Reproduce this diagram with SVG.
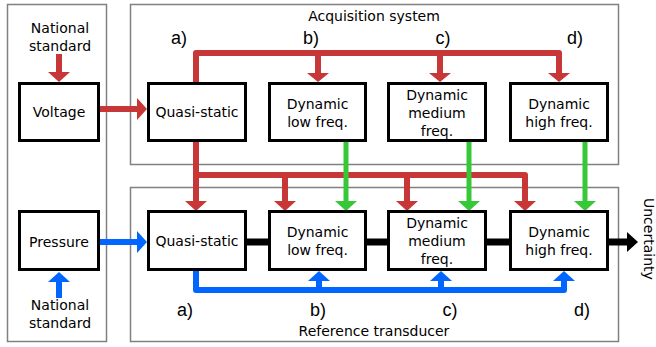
<svg xmlns="http://www.w3.org/2000/svg" width="656" height="347" viewBox="0 0 656 347">
  <style>
    .panel { fill: none; stroke: #808080; stroke-width: 1.5; }
    .box { fill: #ffffff; stroke: #000000; stroke-width: 3; }
    .t { font-family: "DejaVu Sans", Verdana, sans-serif; font-size: 14px; fill: #000000; text-anchor: middle; }
    .lbl { font-family: "Liberation Sans", Arial, sans-serif; font-size: 18px; fill: #000000; text-anchor: middle; }
    .red { fill: none; stroke: #C83737; stroke-width: 6; stroke-linejoin: round; }
    .green { fill: none; stroke: #37C837; stroke-width: 5; }
    .blue { fill: none; stroke: #0066FF; stroke-width: 6; stroke-linejoin: round; }
    .blk { fill: none; stroke: #000000; stroke-width: 7; }
    .hr { fill: #C83737; }
    .hg { fill: #37C837; }
    .hb { fill: #0066FF; }
    .hk { fill: #000000; }
  </style>

  <!-- panels -->
  <rect class="panel" x="7.5" y="4.5" width="99" height="337"/>
  <rect class="panel" x="130.5" y="4.5" width="488" height="160"/>
  <rect class="panel" x="130.5" y="187.5" width="488" height="154"/>
  <text class="t" x="374" y="21">Acquisition system</text>
  <text class="t" x="374" y="336">Reference transducer</text>

  <!-- standards -->
  <text class="t" x="60" y="33">National</text>
  <text class="t" x="60" y="51">standard</text>
  <text class="t" x="60" y="310">National</text>
  <text class="t" x="60" y="328">standard</text>

  <!-- stage labels -->
  <g id="labels">
    <text class="lbl" x="179" y="44">a)</text>
    <text class="lbl" x="311" y="44">b)</text>
    <text class="lbl" x="443" y="44">c)</text>
    <text class="lbl" x="575" y="44">d)</text>
    <text class="lbl" x="185" y="316">a)</text>
    <text class="lbl" x="318" y="316">b)</text>
    <text class="lbl" x="450" y="316">c)</text>
    <text class="lbl" x="582" y="316">d)</text>
  </g>

  <!-- connectors -->
  <g id="connectors">
    <!-- red: voltage chain -->
    <path class="red" d="M59 54 V73"/>
    <polygon class="hr" points="48,72 70,72 59,82"/>
    <path class="red" d="M100 109 H138"/>
    <polygon class="hr" points="137,98 137,120 147,109"/>
    <path class="red" d="M196 83 V53 H559 V74"/>
    <path class="red" d="M318 53 V74"/>
    <path class="red" d="M440 53 V74"/>
    <polygon class="hr" points="307,73 329,73 318,82"/>
    <polygon class="hr" points="429,73 451,73 440,82"/>
    <polygon class="hr" points="548,73 570,73 559,82"/>
    <path class="red" d="M196 142 V202"/>
    <path class="red" d="M196 175 H525 V202"/>
    <path class="red" d="M285 175 V202"/>
    <path class="red" d="M407 175 V202"/>
    <polygon class="hr" points="185,201 207,201 196,211"/>
    <polygon class="hr" points="274,201 296,201 285,211"/>
    <polygon class="hr" points="396,201 418,201 407,211"/>
    <polygon class="hr" points="514,201 536,201 525,211"/>

    <!-- green: dynamic transfer -->
    <path class="green" d="M346 142 V202"/>
    <path class="green" d="M469 142 V202"/>
    <path class="green" d="M585 142 V202"/>
    <polygon class="hg" points="335,201 357,201 346,211"/>
    <polygon class="hg" points="458,201 480,201 469,211"/>
    <polygon class="hg" points="574,201 596,201 585,211"/>

    <!-- blue: pressure chain -->
    <path class="blue" d="M59 298 V281"/>
    <polygon class="hb" points="48,282 70,282 59,272"/>
    <path class="blue" d="M100 242 H138"/>
    <polygon class="hb" points="137,231 137,253 147,242"/>
    <path class="blue" d="M196 271 V290 H564 V280"/>
    <path class="blue" d="M319 290 V280"/>
    <path class="blue" d="M441 290 V280"/>
    <polygon class="hb" points="308,281 330,281 319,271"/>
    <polygon class="hb" points="430,281 452,281 441,271"/>
    <polygon class="hb" points="553,281 575,281 564,271"/>

    <!-- black: uncertainty chain -->
    <path class="blk" d="M247 242 H268 M367 242 H387 M487 242 H509 M609 242 H628"/>
    <polygon class="hk" points="627,232 627,252 638,242"/>
  </g>
  <text class="t" style="text-anchor:start" transform="translate(643.5 198) rotate(90)">Uncertainty</text>

  <!-- top row: acquisition system -->
  <g id="voltage">
    <rect class="box" x="19.5" y="83.5" width="79" height="57"/>
    <text class="t" x="59" y="117">Voltage</text>
  </g>
  <g id="acq-quasi-static">
    <rect class="box" x="148.5" y="83.5" width="97" height="57"/>
    <text class="t" x="197" y="117">Quasi-static</text>
  </g>
  <g id="acq-low">
    <rect class="box" x="269.5" y="83.5" width="96" height="57"/>
    <text class="t" x="317.5" y="109">Dynamic</text>
    <text class="t" x="317.5" y="127">low freq.</text>
  </g>
  <g id="acq-medium">
    <rect class="box" x="388.5" y="83.5" width="97" height="57"/>
    <text class="t" x="437" y="100">Dynamic</text>
    <text class="t" x="437" y="118">medium</text>
    <text class="t" x="437" y="136">freq.</text>
  </g>
  <g id="acq-high">
    <rect class="box" x="510.5" y="83.5" width="97" height="57"/>
    <text class="t" x="559" y="109">Dynamic</text>
    <text class="t" x="559" y="127">high freq.</text>
  </g>

  <!-- bottom row: reference transducer -->
  <g id="pressure">
    <rect class="box" x="19.5" y="211.5" width="79" height="58"/>
    <text class="t" x="59" y="247">Pressure</text>
  </g>
  <g id="ref-quasi-static">
    <rect class="box" x="148.5" y="211.5" width="97" height="58"/>
    <text class="t" x="197" y="246">Quasi-static</text>
  </g>
  <g id="ref-low">
    <rect class="box" x="269.5" y="211.5" width="96" height="58"/>
    <text class="t" x="317.5" y="237">Dynamic</text>
    <text class="t" x="317.5" y="255">low freq.</text>
  </g>
  <g id="ref-medium">
    <rect class="box" x="388.5" y="211.5" width="97" height="58"/>
    <text class="t" x="437" y="228">Dynamic</text>
    <text class="t" x="437" y="246">medium</text>
    <text class="t" x="437" y="264">freq.</text>
  </g>
  <g id="ref-high">
    <rect class="box" x="510.5" y="211.5" width="97" height="58"/>
    <text class="t" x="559" y="237">Dynamic</text>
    <text class="t" x="559" y="255">high freq.</text>
  </g>
</svg>
